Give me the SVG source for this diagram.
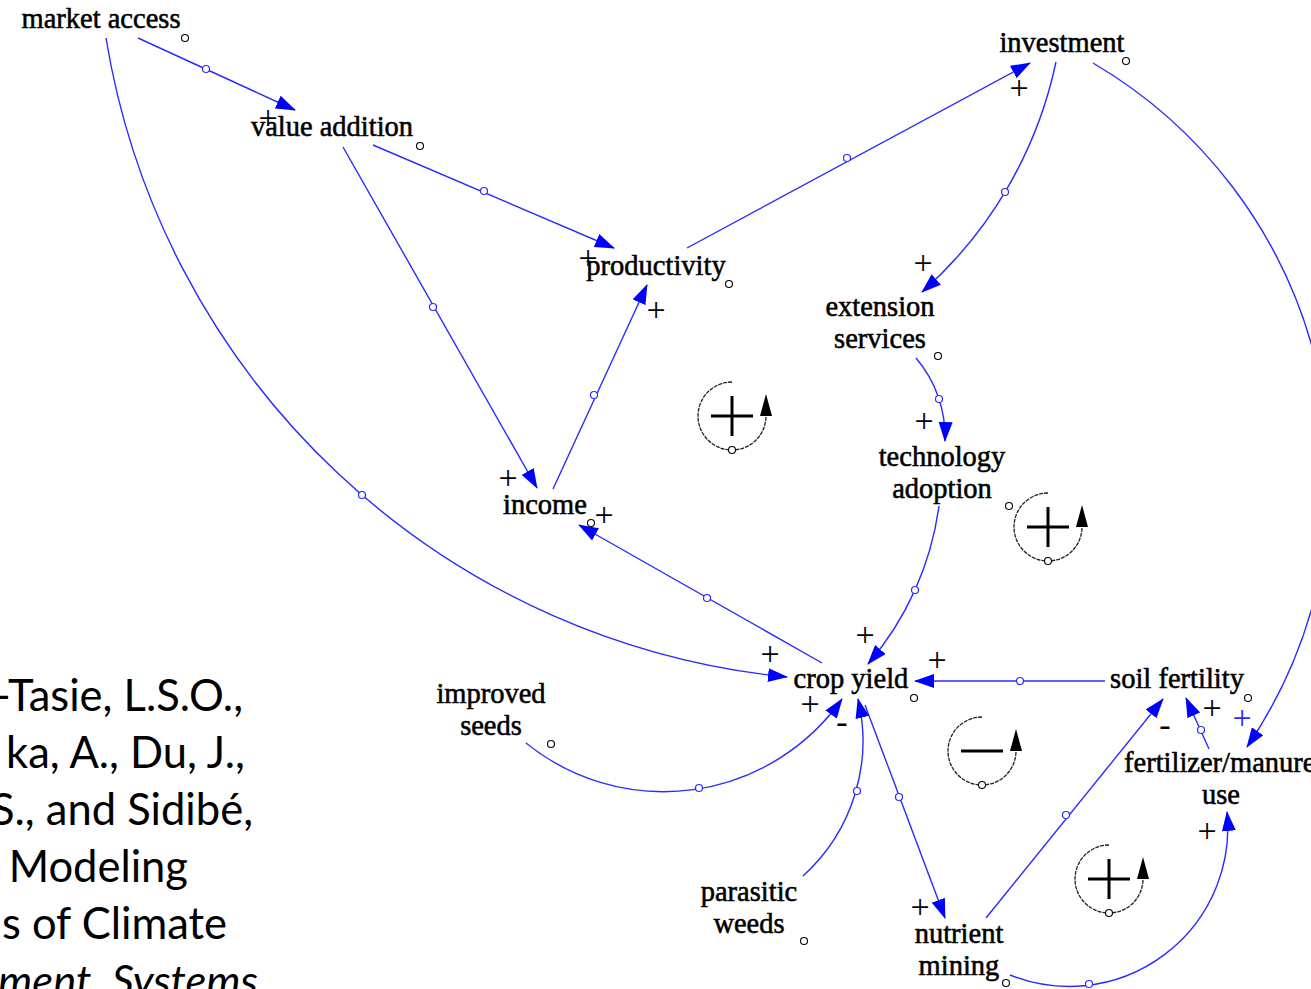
<svg xmlns="http://www.w3.org/2000/svg" width="1311" height="989" viewBox="0 0 1311 989">
<defs>
<style>
.lbl{font-family:"Liberation Serif","Times New Roman",serif;font-size:28.5px;fill:#000;stroke:#000;stroke-width:0.55;text-anchor:middle}
.pol{font-family:"Liberation Serif","Times New Roman",serif;font-size:34px;fill:#000;text-anchor:middle;dominant-baseline:central}
.polb{fill:#2a2aff}
.cite{font-family:Lato,"Liberation Sans",sans-serif;font-size:43.5px;fill:#000;text-anchor:end}
.ln{fill:none;stroke:#2a2aff;stroke-width:1.4;marker-end:url(#ah)}
.mid{fill:#fff;stroke:#2a2aff;stroke-width:1.2}
.dot{fill:#fff;stroke:#000;stroke-width:1.1}
.larc{fill:none;stroke:#222;stroke-width:1.3;stroke-dasharray:4 1}
.lsym{stroke:#000;stroke-width:3;fill:none}
.lhead{fill:#000}
</style>
<marker id="ah" markerWidth="20" markerHeight="14" refX="19" refY="7" orient="auto" markerUnits="userSpaceOnUse">
<path d="M0,0 L20,7 L0,14 z" fill="#0000ff"/>
</marker>
<g id="loopR">
<path class="larc" d="M0,-34 A34,34 0 1 0 34,0"/>
<path class="lhead" d="M34,-22 L40,0 L28,0 z"/>
<circle class="dot" cx="0" cy="34" r="3.5"/>
<path class="lsym" d="M-21,0 H21 M0,-20 V20"/>
</g>
<g id="loopB">
<path class="larc" d="M0,-34 A34,34 0 1 0 34,0"/>
<path class="lhead" d="M34,-22 L40,0 L28,0 z"/>
<circle class="dot" cx="0" cy="34" r="3.5"/>
<path class="lsym" d="M-21,0 H21"/>
</g>
</defs>
<rect width="1311" height="989" fill="#fff"/>

<g id="citation">
<text class="cite" x="243" y="711">-Tasie, L.S.O.,</text>
<text class="cite" x="245" y="768">ka, A., Du, J.,</text>
<text class="cite" x="253" y="825">S., and Sidibé,</text>
<text class="cite" x="188" y="882">Modeling</text>
<text class="cite" x="227" y="939">s of Climate</text>
<text class="cite" x="258" y="996" font-style="italic">ment. Systems</text>
</g>

<g id="connectors">
<path class="ln" d="M138,38 L295,110"/><circle class="mid" cx="206" cy="69" r="3.5"/>
<path class="ln" d="M106,38 A766,766 0 0 0 787,677"/><circle class="mid" cx="362" cy="495" r="3.5"/>
<path class="ln" d="M373,145 L614,248"/><circle class="mid" cx="484" cy="191" r="3.5"/>
<path class="ln" d="M343,147 L537,488"/><circle class="mid" cx="433" cy="307" r="3.5"/>
<path class="ln" d="M687,248 L1030,63"/><circle class="mid" cx="847" cy="158" r="3.5"/>
<path class="ln" d="M553,489 L647,285"/><circle class="mid" cx="594" cy="395" r="3.5"/>
<path class="ln" d="M1056,62 A424.5,424.5 0 0 1 922,292"/><circle class="mid" cx="1005" cy="192" r="3.5"/>
<path class="ln" d="M1093,63 A480,480 0 0 1 1247,747"/>
<path class="ln" d="M916,358 A121.5,121.5 0 0 1 945,441"/><circle class="mid" cx="939" cy="399" r="3.5"/>
<path class="ln" d="M939,506 A305.4,305.4 0 0 1 868,664"/><circle class="mid" cx="915" cy="590" r="3.5"/>
<path class="ln" d="M822,663 L579,525"/><circle class="mid" cx="707" cy="598" r="3.5"/>
<path class="ln" d="M1105,681 L915,681"/><circle class="mid" cx="1020" cy="681" r="3.5"/>
<path class="ln" d="M526,743 A218.3,218.3 0 0 0 842,699"/><circle class="mid" cx="699" cy="788" r="3.5"/>
<path class="ln" d="M803,876 A181.9,181.9 0 0 0 858,699"/><circle class="mid" cx="857" cy="791" r="3.5"/>
<path class="ln" d="M865,705 L945,918"/><circle class="mid" cx="899" cy="797" r="3.5"/>
<path class="ln" d="M986,918 L1163,699"/><circle class="mid" cx="1066" cy="815" r="3.5"/>
<path class="ln" d="M1209,749 L1186,698"/><circle class="mid" cx="1201" cy="730" r="3.5"/>
<path class="ln" d="M1010,975 A158.6,158.6 0 0 0 1227,812"/><circle class="mid" cx="1089" cy="984" r="3.5"/>
</g>

<g id="polarities">
<text class="pol" x="268" y="117">+</text>
<text class="pol" x="588" y="257">+</text>
<text class="pol" x="656" y="309">+</text>
<text class="pol" x="508" y="477">+</text>
<text class="pol" x="604" y="514">+</text>
<text class="pol" x="1019" y="87">+</text>
<text class="pol" x="923" y="262">+</text>
<text class="pol" x="924" y="420">+</text>
<text class="pol" x="865" y="634">+</text>
<text class="pol" x="770" y="653">+</text>
<text class="pol" x="937" y="659">+</text>
<text class="pol" x="810" y="703">+</text>
<text class="pol" x="842" y="721">-</text>
<text class="pol" x="1212" y="707">+</text>
<text class="pol polb" x="1242" y="717">+</text>
<text class="pol" x="1165" y="724">-</text>
<text class="pol" x="1207" y="830">+</text>
<text class="pol" x="920" y="906">+</text>
</g>

<g id="loops">
<use href="#loopR" x="732" y="416"/>
<use href="#loopR" x="1048" y="527"/>
<use href="#loopB" x="982" y="751"/>
<use href="#loopR" x="1109" y="879"/>
</g>

<g id="n-market-access"><text class="lbl" x="101" y="28">market access</text><circle class="dot" cx="185" cy="38" r="3.5"/></g>
<g id="n-value-addition"><text class="lbl" x="332" y="136">value addition</text><circle class="dot" cx="420" cy="146" r="3.5"/></g>
<g id="n-productivity"><text class="lbl" x="656" y="275">productivity</text><circle class="dot" cx="729" cy="284" r="3.5"/></g>
<g id="n-investment"><text class="lbl" x="1062" y="52">investment</text><circle class="dot" cx="1126" cy="61" r="3.5"/></g>
<g id="n-extension-services"><text class="lbl" x="880" y="316">extension</text><text class="lbl" x="880" y="348">services</text><circle class="dot" cx="938" cy="356" r="3.5"/></g>
<g id="n-technology-adoption"><text class="lbl" x="942" y="466">technology</text><text class="lbl" x="942" y="498">adoption</text><circle class="dot" cx="1009" cy="506" r="3.5"/></g>
<g id="n-income"><text class="lbl" x="545" y="514">income</text><circle class="dot" cx="591" cy="523" r="3.5"/></g>
<g id="n-crop-yield"><text class="lbl" x="851" y="688">crop yield</text><circle class="dot" cx="914" cy="698" r="3.5"/></g>
<g id="n-soil-fertility"><text class="lbl" x="1177" y="688">soil fertility</text><circle class="dot" cx="1248" cy="698" r="3.5"/></g>
<g id="n-fertilizer-use"><text class="lbl" x="1124" y="772" style="text-anchor:start">fertilizer/manure</text><text class="lbl" x="1221" y="804">use</text></g>
<g id="n-improved-seeds"><text class="lbl" x="491" y="703">improved</text><text class="lbl" x="491" y="735">seeds</text><circle class="dot" cx="551" cy="744" r="3.5"/></g>
<g id="n-parasitic-weeds"><text class="lbl" x="749" y="901">parasitic</text><text class="lbl" x="749" y="933">weeds</text><circle class="dot" cx="804" cy="941" r="3.5"/></g>
<g id="n-nutrient-mining"><text class="lbl" x="959" y="943">nutrient</text><text class="lbl" x="959" y="975">mining</text><circle class="dot" cx="1006" cy="983" r="3.5"/></g>
</svg>
